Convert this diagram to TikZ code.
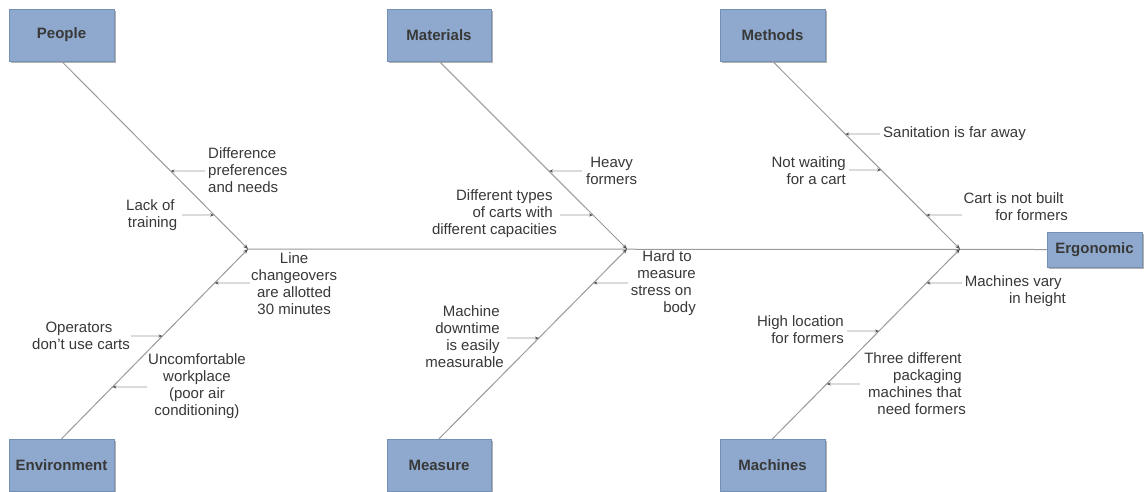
\documentclass[tikz,border=0pt]{standalone}
\usepackage{fontspec}
\setmainfont{Liberation Sans}
\usetikzlibrary{arrows.meta,shadows}
\definecolor{boxfill}{HTML}{8EA9CD}
\definecolor{boxline}{HTML}{7590B5}
\definecolor{boneline}{HTML}{9A9A9A}
\definecolor{tipcol}{HTML}{555555}
\definecolor{txt}{HTML}{383838}
% trailing space kept at the end of a wrapped line
\newcommand\trsp{\kern4.2pt}

\begin{document}
\begin{tikzpicture}[x=1pt,y=-1pt,
  catbox/.style={draw=boxline, fill=boxfill, minimum width=105pt, minimum height=52pt,
    inner sep=0pt, font=\fontsize{15}{17}\selectfont\bfseries, text=txt,
    drop shadow={shadow xshift=2pt, shadow yshift=-2pt, opacity=0.3, fill=black}},
  bone/.style={draw=boneline, line width=1pt, -{Stealth[length=5pt,width=4pt,color=tipcol]}},
  spine/.style={draw=boneline, line width=1pt},
  cause/.style={draw=boneline, line width=0.8pt, -{Stealth[length=4pt,width=3pt,color=tipcol]}},
  note/.style={font=\fontsize{15}{17}\selectfont, text=txt, inner sep=0pt},
]
\fill[white] (0,0) rectangle (1145,491);
\useasboundingbox (0,0) rectangle (1145,491);

% category boxes
\node[catbox] (People)      at (61.5,35)  {People};
\node[catbox, minimum width=104pt] (Materials) at (439,35) {Materials};
\node[catbox] (Methods)     at (772.5,35) {Methods};
\node[catbox] (Environment) at (61.5,465) {Environment};
\node[catbox, minimum width=104pt] (Measure) at (439,465) {Measure};
\node[catbox] (Machines)    at (772.5,465) {Machines};
\node[catbox, minimum width=95pt, minimum height=35pt] (Ergonomic) at (1094.5,249.5) {Ergonomic};

% junctions on the spine
\coordinate (jP) at (248,249);
\coordinate (jM) at (627,249);
\coordinate (jT) at (960,249);

% spine and bones
\draw[spine] (jP) -- (Ergonomic.west);
\draw[bone] (People.south) -- (jP);
\draw[bone] (Environment.north) -- (jP);
\draw[bone] (Materials.south) -- (jM);
\draw[bone] (Measure.north) -- (jM);
\draw[bone] (Methods.south) -- (jT);
\draw[bone] (Machines.north) -- (jT);

% cause texts
\node[note, align=left, anchor=west] (dif) at (208,170) {Difference\\preferences\\and needs};
\node[note, align=center, anchor=east] (lack) at (179,215.5) {Lack of\trsp\\training};
\node[note, align=center, anchor=west] (lco) at (251,283.5) {Line\\changeovers\\are allotted\\30 minutes};
\node[note, align=center, anchor=east] (ops) at (130,335.5) {Operators\trsp\\don't use carts};
\node[note, align=center, anchor=west] (unc) at (148,386.5) {Uncomfortable\\workplace\\(poor air\\conditioning)};
\node[note, align=center, anchor=west] (heavy) at (586,171) {Heavy\\formers};
\node[note, align=right, anchor=east] (dtypes) at (557,214) {Different types\trsp\\of carts with\trsp\\different capacities};
\node[note, align=right, anchor=east] (hard) at (696,283.5) {Hard to\trsp\\measure\\stress on\trsp\\body};
\node[note, align=right, anchor=east] (mdown) at (504,337) {Machine\trsp\\downtime\trsp\\is easily\trsp\\measurable};
\node[note, anchor=west] (san) at (883,133.5) {Sanitation is far away};
\node[note, align=right, anchor=east] (notw) at (846,170.5) {Not waiting\\for a cart};
\node[note, align=right, anchor=east] (cart) at (1068,206.5) {Cart is not built\trsp\\for formers};
\node[note, align=right, anchor=east] (vary) at (1066,291.5) {Machines vary\trsp\\in height};
\node[note, align=right, anchor=east] (high) at (844,330) {High location\\for formers};
\node[note, align=right, anchor=east] (three) at (966,383.5) {Three different\trsp\\packaging\trsp\\machines that\trsp\\need formers};

% arrow tips on the bones
\coordinate (t1)  at (intersection of People.south--jP and 0,171--1,171);
\coordinate (t2)  at (intersection of People.south--jP and 0,215--1,215);
\coordinate (t3)  at (intersection of Environment.north--jP and 0,283--1,283);
\coordinate (t4)  at (intersection of Environment.north--jP and 0,336--1,336);
\coordinate (t5)  at (intersection of Environment.north--jP and 0,387--1,387);
\coordinate (t6)  at (intersection of Materials.south--jM and 0,171--1,171);
\coordinate (t7)  at (intersection of Materials.south--jM and 0,215--1,215);
\coordinate (t8)  at (intersection of Measure.north--jM and 0,283--1,283);
\coordinate (t9)  at (intersection of Measure.north--jM and 0,338--1,338);
\coordinate (t10) at (intersection of Methods.south--jT and 0,134--1,134);
\coordinate (t11) at (intersection of Methods.south--jT and 0,170--1,170);
\coordinate (t12) at (intersection of Methods.south--jT and 0,215--1,215);
\coordinate (t13) at (intersection of Machines.north--jT and 0,283--1,283);
\coordinate (t14) at (intersection of Machines.north--jT and 0,331--1,331);
\coordinate (t15) at (intersection of Machines.north--jT and 0,384--1,384);

% arrow tails beside the texts
\coordinate (s1)  at (205,171);
\coordinate (s2)  at (182,215);
\coordinate (s3)  at (250,283);
\coordinate (s4)  at (131,336);
\coordinate (s5)  at (147,387);
\coordinate (s6)  at (582,171);
\coordinate (s7)  at (560,215);
\coordinate (s8)  at (628,283);
\coordinate (s9)  at (507,338);
\coordinate (s10) at (880,134);
\coordinate (s11) at (849,170);
\coordinate (s12) at (962,215);
\coordinate (s13) at (962,283);
\coordinate (s14) at (847,331);
\coordinate (s15) at (860,384);

\foreach \k in {1,...,15} {\draw[cause] (s\k) -- (t\k);}
\end{tikzpicture}
\end{document}
